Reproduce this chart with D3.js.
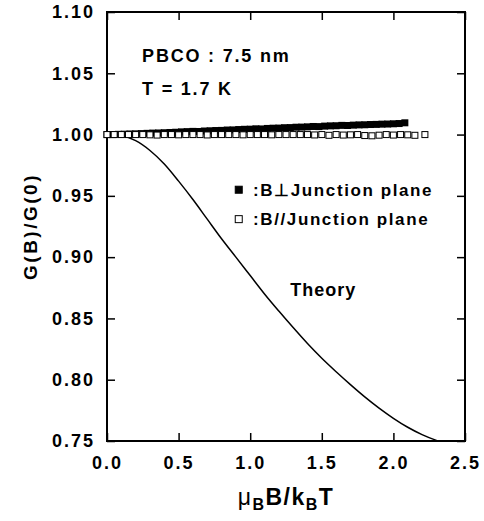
<!DOCTYPE html>
<html>
<head>
<meta charset="utf-8">
<script src="https://cdn.jsdelivr.net/npm/d3@7"></script>
<style>
  body { margin: 0; background: #fff; }
  svg { display: block; }
  text { font-family: "Liberation Sans", Arial, sans-serif; font-weight: bold; fill: #000; }
</style>
</head>
<body>
<div id="chart"></div>
<script>
"use strict";

// ---------------- data ----------------
const xTicks = [0, 0.5, 1.0, 1.5, 2.0, 2.5];
const yTicks = [0.75, 0.80, 0.85, 0.90, 0.95, 1.00, 1.05, 1.10];

// B perpendicular to junction plane (filled squares)
const perpX = [0.00, 0.04, 0.08, 0.12, 0.16, 0.20, 0.24, 0.28, 0.32, 0.36, 0.40, 0.44, 0.48, 0.52,
  0.56, 0.60, 0.64, 0.68, 0.72, 0.76, 0.80, 0.84, 0.88, 0.92, 0.96, 1.00, 1.04, 1.08, 1.12, 1.16,
  1.20, 1.24, 1.28, 1.32, 1.36, 1.40, 1.44, 1.48, 1.52, 1.56, 1.60, 1.64, 1.68, 1.72, 1.76, 1.80,
  1.84, 1.88, 1.92, 1.96, 2.00, 2.04, 2.08];
const perpY = [1.0000, 1.0000, 1.0002, 1.0003, 1.0005, 1.0006, 1.0008, 1.0010, 1.0012, 1.0013,
  1.0015, 1.0017, 1.0019, 1.0022, 1.0024, 1.0026, 1.0025, 1.0029, 1.0031, 1.0033, 1.0034, 1.0037,
  1.0038, 1.0041, 1.0043, 1.0044, 1.0047, 1.0046, 1.0050, 1.0052, 1.0053, 1.0056, 1.0057, 1.0060,
  1.0061, 1.0063, 1.0066, 1.0065, 1.0069, 1.0071, 1.0072, 1.0075, 1.0074, 1.0077, 1.0079, 1.0080,
  1.0082, 1.0083, 1.0085, 1.0086, 1.0088, 1.0090, 1.0096];

// B parallel to junction plane (open squares)
const parX = [0.00, 0.05, 0.10, 0.15, 0.20, 0.25, 0.30, 0.35, 0.40, 0.45, 0.50, 0.55, 0.60, 0.65,
  0.70, 0.75, 0.80, 0.85, 0.90, 0.95, 1.00, 1.05, 1.10, 1.15, 1.20, 1.25, 1.30, 1.35, 1.40, 1.45,
  1.50, 1.55, 1.60, 1.65, 1.70, 1.75, 1.80, 1.85, 1.90, 1.95, 2.00, 2.05, 2.10, 2.15, 2.22];
const parY = [1.0000, 1.0000, 1.0000, 1.0000, 1.0000, 1.0000, 0.9998, 0.9996, 1.0000, 1.0000,
  0.9998, 1.0000, 1.0000, 1.0000, 0.9997, 1.0000, 1.0000, 1.0000, 1.0000, 0.9998, 1.0000, 1.0000,
  1.0000, 0.9998, 1.0000, 1.0000, 1.0000, 1.0000, 1.0000, 0.9997, 1.0000, 0.9994, 1.0000, 0.9996,
  0.9998, 1.0000, 0.9992, 0.9990, 0.9995, 1.0000, 0.9996, 1.0000, 0.9998, 0.9994, 1.0000];

// theory curve
const theoryX = [0.00, 0.10, 0.20, 0.30, 0.40, 0.50, 0.60, 0.70, 0.80, 0.90, 1.00, 1.10, 1.20,
  1.30, 1.40, 1.50, 1.60, 1.70, 1.80, 1.90, 2.00, 2.10, 2.20, 2.30, 2.32];
const theoryY = [1.000, 0.999, 0.995, 0.987, 0.976, 0.962, 0.947, 0.931, 0.915, 0.900, 0.885,
  0.870, 0.856, 0.8425, 0.8295, 0.8175, 0.8065, 0.7960, 0.7860, 0.7768, 0.7685, 0.7612, 0.7552,
  0.7505, 0.7497];

// ---------------- setup ----------------
const W = 484, H = 521;
const margin = { top: 12, right: 19, bottom: 80, left: 107 };
const width = W - margin.left - margin.right;
const height = H - margin.top - margin.bottom;

const svg = d3.select("#chart").append("svg")
  .attr("width", W)
  .attr("height", H);

const g = svg.append("g")
  .attr("transform", `translate(${margin.left},${margin.top})`);

const x = d3.scaleLinear().domain([0, 2.5]).range([0, width]);
const y = d3.scaleLinear().domain([0.75, 1.10]).range([height, 0]);

// ---------------- axes ----------------
const tickLen = 8;
const fmtX = d3.format(".1f");
const fmtY = d3.format(".2f");

const styleAxis = sel => {
  sel.select(".domain").remove();
  sel.selectAll(".tick line").attr("stroke", "#000").attr("stroke-width", 1.5);
  sel.selectAll(".tick text")
    .style("font-size", "18px")
    .style("letter-spacing", "2px");
};

g.append("g")
  .attr("transform", `translate(0,${height})`)
  .call(d3.axisBottom(x).tickValues(xTicks).tickFormat(fmtX).tickSizeInner(-tickLen).tickPadding(15))
  .call(styleAxis);

g.append("g")
  .call(d3.axisLeft(y).tickValues(yTicks).tickFormat(fmtY).tickSizeInner(-tickLen).tickPadding(12))
  .call(styleAxis);

g.append("g")
  .call(d3.axisTop(x).tickValues(xTicks).tickFormat("").tickSizeInner(-tickLen))
  .call(styleAxis);

g.append("g")
  .attr("transform", `translate(${width},0)`)
  .call(d3.axisRight(y).tickValues(yTicks).tickFormat("").tickSizeInner(-tickLen))
  .call(styleAxis);

// frame
g.append("rect")
  .attr("width", width)
  .attr("height", height)
  .attr("fill", "none")
  .attr("stroke", "#000")
  .attr("stroke-width", 2);

// ---------------- theory curve ----------------
const theory = theoryX.map((d, i) => [d, theoryY[i]]);
const line = d3.line()
  .x(d => x(d[0]))
  .y(d => y(d[1]))
  .curve(d3.curveMonotoneX);

g.append("path")
  .datum(theory)
  .attr("fill", "none")
  .attr("stroke", "#000")
  .attr("stroke-width", 1.5)
  .attr("d", line);

// ---------------- data points ----------------
const sq = 7;
g.append("g").selectAll("rect")
  .data(perpX.map((d, i) => [d, perpY[i]]))
  .join("rect")
  .attr("x", d => x(d[0]) - sq / 2)
  .attr("y", d => y(d[1]) - sq / 2)
  .attr("width", sq)
  .attr("height", sq)
  .attr("fill", "#000");

g.append("g").selectAll("rect")
  .data(parX.map((d, i) => [d, parY[i]]))
  .join("rect")
  .attr("x", d => x(d[0]) - sq / 2 + 0.5)
  .attr("y", d => y(d[1]) - sq / 2 + 0.5)
  .attr("width", sq - 1)
  .attr("height", sq - 1)
  .attr("fill", "#fff")
  .attr("stroke", "#000")
  .attr("stroke-width", 1);

// ---------------- annotations ----------------
g.append("text")
  .attr("x", x(0.245))
  .attr("y", y(1.065) + 7)
  .style("font-size", "18px")
  .style("letter-spacing", "1.8px")
  .text("PBCO : 7.5 nm");

g.append("text")
  .attr("x", x(0.245))
  .attr("y", y(1.038) + 7)
  .style("font-size", "18px")
  .style("letter-spacing", "1.8px")
  .text("T = 1.7 K");

// legend
const legend = [
  { label: ":B\u22A5Junction plane", fill: "#000", yv: 0.955 },
  { label: ":B//Junction plane", fill: "#fff", yv: 0.931 }
];
legend.forEach(l => {
  g.append("rect")
    .attr("x", x(0.92) - 3.5)
    .attr("y", y(l.yv) - 3.5)
    .attr("width", 7)
    .attr("height", 7)
    .attr("fill", l.fill)
    .attr("stroke", "#000")
    .attr("stroke-width", 1);
  g.append("text")
    .attr("x", x(1.02))
    .attr("y", y(l.yv) + 6)
    .style("font-size", "17px")
    .style("letter-spacing", "1.6px")
    .text(l.label);
});

g.append("text")
  .attr("x", x(1.28))
  .attr("y", y(0.874) + 7)
  .style("font-size", "18px")
  .style("letter-spacing", "1px")
  .text("Theory");

// axis titles
const xt = svg.append("text")
  .attr("x", margin.left + width / 2)
  .attr("y", 505)
  .attr("text-anchor", "middle")
  .style("font-size", "23px")
  .style("letter-spacing", "1.5px");
xt.append("tspan").style("font-weight", "normal").text("\u03BC");
xt.append("tspan").attr("dy", 5).style("font-size", "16px").text("B");
xt.append("tspan").attr("dy", -5).text("B/k");
xt.append("tspan").attr("dy", 5).style("font-size", "16px").text("B");
xt.append("tspan").attr("dy", -5).text("T");

svg.append("text")
  .attr("transform", `translate(37,${margin.top + height / 2}) rotate(-90)`)
  .attr("text-anchor", "middle")
  .style("font-size", "19px")
  .style("letter-spacing", "2.5px")
  .text("G(B)/G(0)");
</script>
</body>
</html>
